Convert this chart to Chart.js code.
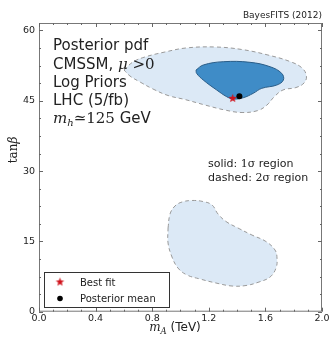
<!DOCTYPE html>
<html>
<head>
<meta charset="utf-8">
<script src="https://cdn.jsdelivr.net/npm/chart.js@4.4.0/dist/chart.umd.min.js"></script>
<style>
  html, body { margin: 0; background: #fff; }
  #wrap { width: 331px; height: 340px; }
</style>
</head>
<body>
<div id="wrap"><canvas id="myChart"></canvas></div>
<script>
// 2 sigma region at high tan(beta): m_A (TeV), tan(beta)
var upper2x = [0.601, 0.664, 0.749, 0.890, 1.039, 1.244, 1.435, 1.618, 1.774, 1.859, 1.890, 1.873, 1.816, 1.724, 1.661, 1.611, 1.548, 1.435, 1.314, 1.173, 1.032, 0.912, 0.806, 0.714, 0.643];
var upper2y = [51.57, 53.28, 54.35, 55.41, 56.27, 56.48, 55.94, 54.77, 53.38, 52.00, 50.29, 48.80, 47.83, 47.30, 45.81, 44.10, 42.93, 42.50, 43.03, 44.10, 45.27, 46.13, 47.51, 49.01, 50.29];
// 1 sigma region
var upper1x = [1.110, 1.161, 1.302, 1.491, 1.633, 1.715, 1.727, 1.680, 1.574, 1.514, 1.444, 1.373, 1.327, 1.256, 1.161, 1.114];
var upper1y = [51.57, 52.64, 53.34, 53.21, 52.27, 50.86, 49.43, 48.36, 47.66, 46.60, 45.66, 45.38, 45.87, 47.30, 49.43, 50.86];
// 2 sigma region at low tan(beta)
var lower2x = [0.912, 0.926, 0.961, 1.011, 1.081, 1.159, 1.223, 1.265, 1.322, 1.406, 1.505, 1.604, 1.668, 1.682, 1.675, 1.633, 1.555, 1.463, 1.364, 1.251, 1.138, 1.046, 0.982, 0.940, 0.912];
var lower2y = [17.86, 20.85, 22.55, 23.41, 23.73, 23.51, 22.77, 20.85, 19.24, 17.86, 16.36, 14.98, 13.16, 11.46, 9.32, 7.40, 6.34, 5.59, 5.48, 6.12, 6.98, 7.83, 9.32, 11.67, 14.66];

var bestFit = [1.369, 45.53];
var postMean = [1.416, 45.96];

var xTicks = [0.0, 0.4, 0.8, 1.2, 1.6, 2.0];
var yTicks = [0, 15, 30, 45, 60];

var lightBlue = '#dce9f6';
var darkBlue = '#3f8cc7';

function loop(xs, ys) {
    var pts = xs.map((x, i) => ({x: x, y: ys[i]}));
    pts.push(pts[0]);
    return pts;
}

function starImage(r, color) {
    var c = document.createElement('canvas');
    c.width = c.height = Math.ceil(2 * r + 2);
    var g = c.getContext('2d');
    var cx = c.width / 2, cy = c.height / 2;
    g.beginPath();
    for (var i = 0; i < 10; i++) {
        var rr = i % 2 ? r * 0.42 : r;
        var a = -Math.PI / 2 + i * Math.PI / 5;
        g.lineTo(cx + rr * Math.cos(a), cy + rr * Math.sin(a));
    }
    g.closePath();
    g.fillStyle = color;
    g.fill();
    return c;
}

var redStar = starImage(4.5, '#d0121b');

// draws text made of pieces in different fonts, left to right
function runs(ctx, x, y, parts) {
    parts.forEach(p => {
        ctx.font = p[1];
        ctx.fillText(p[0], x, y + (p[2] || 0));
        x += ctx.measureText(p[0]).width;
    });
    return x;
}
function runsWidth(ctx, parts) {
    var w = 0;
    parts.forEach(p => { ctx.font = p[1]; w += ctx.measureText(p[0]).width; });
    return w;
}

var SANS = '"DejaVu Sans"';
var SERIF = '"DejaVu Serif"';

var decorations = {
    id: 'decorations',
    afterDraw(chart) {
        var ctx = chart.ctx;
        var a = chart.chartArea;
        var xs = chart.scales.x, ys = chart.scales.y;
        ctx.save();

        // frame
        ctx.strokeStyle = '#777';
        ctx.lineWidth = 1;
        ctx.strokeRect(a.left + 0.5, a.top + 0.5, a.right - a.left - 1, a.bottom - a.top - 1);

        // inward ticks on all four sides
        ctx.strokeStyle = '#666';
        ctx.beginPath();
        for (var v = 0; v <= 2.0001; v += 0.1) {
            var px = Math.round(xs.getPixelForValue(v)) + 0.5;
            var major = Math.abs(v / 0.4 - Math.round(v / 0.4)) < 1e-6;
            var len = major ? 4 : 2;
            ctx.moveTo(px, a.bottom); ctx.lineTo(px, a.bottom - len);
            ctx.moveTo(px, a.top); ctx.lineTo(px, a.top + len);
        }
        for (var w = 0; w <= ys.max; w += 3.75) {
            var py = Math.round(ys.getPixelForValue(w)) + 0.5;
            var majorY = Math.abs(w / 15 - Math.round(w / 15)) < 1e-6;
            var lenY = majorY ? 4 : 2;
            ctx.moveTo(a.left, py); ctx.lineTo(a.left + lenY, py);
            ctx.moveTo(a.right, py); ctx.lineTo(a.right - lenY, py);
        }
        ctx.stroke();

        ctx.fillStyle = '#222';
        ctx.textBaseline = 'alphabetic';
        ctx.textAlign = 'left';

        // header
        ctx.font = '9px ' + SANS;
        ctx.textAlign = 'right';
        ctx.fillText('BayesFITS (2012)', a.right, 18);
        ctx.textAlign = 'left';

        // description block
        var f15 = '15px ' + SANS;
        runs(ctx, 53, 50, [['Posterior pdf', f15]]);
        runs(ctx, 53, 68.5, [['CMSSM, ', f15], ['\u03bc', 'italic 15px ' + SERIF], [' >0', '15px ' + SERIF]]);
        runs(ctx, 53, 86.8, [['Log Priors', f15]]);
        runs(ctx, 53, 105, [['LHC (5/fb)', f15]]);
        runs(ctx, 53, 123.3, [['m', 'italic 15px ' + SERIF], ['h', 'italic 10px ' + SERIF, 3],
                              ['\u2243125', '15px ' + SERIF], [' GeV', f15]]);

        // contour style note
        var f11 = '11px ' + SANS;
        runs(ctx, 208, 166.5, [['solid: ', f11], ['1\u03c3', '11px ' + SERIF], [' region', f11]]);
        runs(ctx, 208, 180.5, [['dashed: ', f11], ['2\u03c3', '11px ' + SERIF], [' region', f11]]);

        // legend
        ctx.fillStyle = '#fff';
        ctx.fillRect(44.5, 272.5, 125, 35);
        ctx.strokeStyle = '#333';
        ctx.strokeRect(44.5, 272.5, 125, 35);
        ctx.drawImage(redStar, 60 - redStar.width / 2, 282 - redStar.height / 2);
        ctx.fillStyle = '#000';
        ctx.beginPath();
        ctx.arc(60, 298.5, 2.8, 0, Math.PI * 2);
        ctx.fill();
        ctx.fillStyle = '#222';
        ctx.font = '10px ' + SANS;
        ctx.fillText('Best fit', 80, 285.5);
        ctx.fillText('Posterior mean', 80, 301.5);

        // axis titles
        var xt = [['m', 'italic 12px ' + SERIF], ['A', 'italic 8.5px ' + SERIF, 3], [' (TeV)', '12px ' + SANS]];
        runs(ctx, 175 - runsWidth(ctx, xt) / 2, 331, xt);
        var yt = [['tan', '12px ' + SERIF], ['\u03b2', 'italic 12px ' + SERIF]];
        ctx.translate(17, 150);
        ctx.rotate(-Math.PI / 2);
        runs(ctx, -runsWidth(ctx, yt) / 2, 0, yt);
        ctx.restore();
    }
};

var ctx = document.getElementById('myChart');
var myChart = new Chart(ctx, {
    type: 'scatter',
    data: {
        datasets: [{
            label: 'Posterior mean',
            data: [{x: postMean[0], y: postMean[1]}],
            pointRadius: 3,
            backgroundColor: '#000',
            borderColor: '#000',
            borderWidth: 0,
        }, {
            label: 'Best fit',
            data: [{x: bestFit[0], y: bestFit[1]}],
            pointStyle: redStar,
        }, {
            label: '1 sigma',
            data: loop(upper1x, upper1y),
            showLine: true,
            fill: 'shape',
            tension: 0.4,
            pointRadius: 0,
            borderColor: '#2a5d88',
            borderWidth: 1,
            backgroundColor: darkBlue,
        }, {
            label: '2 sigma (upper)',
            data: loop(upper2x, upper2y),
            showLine: true,
            fill: 'shape',
            tension: 0.4,
            pointRadius: 0,
            borderColor: '#999',
            borderWidth: 1,
            borderDash: [4, 3],
            backgroundColor: lightBlue,
        }, {
            label: '2 sigma (lower)',
            data: loop(lower2x, lower2y),
            showLine: true,
            fill: 'shape',
            tension: 0.4,
            pointRadius: 0,
            borderColor: '#999',
            borderWidth: 1,
            borderDash: [4, 3],
            backgroundColor: lightBlue,
        }],
    },
    options: {
        responsive: true,
        maintainAspectRatio: false,
        animation: false,
        layout: { padding: { top: 23, right: 9, left: 0, bottom: 0 } },
        plugins: {
            legend: { display: false },
            tooltip: { enabled: false },
        },
        scales: {
            x: {
                type: 'linear',
                min: 0,
                max: 2,
                afterBuildTicks: s => { s.ticks = xTicks.map(v => ({value: v})); },
                afterFit: s => { s.height = 28.3; },
                grid: { display: false, drawTicks: false },
                border: { display: false },
                ticks: {
                    padding: 1,
                    color: '#222',
                    maxRotation: 0,
                    font: { family: 'DejaVu Sans', size: 9.5 },
                    callback: v => v.toFixed(1),
                },
            },
            y: {
                type: 'linear',
                min: 0,
                max: 61.6,
                afterBuildTicks: s => { s.ticks = yTicks.map(v => ({value: v})); },
                afterFit: s => { s.width = 39; },
                grid: { display: false, drawTicks: false },
                border: { display: false },
                ticks: {
                    padding: 4,
                    color: '#222',
                    font: { family: 'DejaVu Sans', size: 9.5 },
                },
            },
        },
    },
    plugins: [decorations],
});
</script>
</body>
</html>
